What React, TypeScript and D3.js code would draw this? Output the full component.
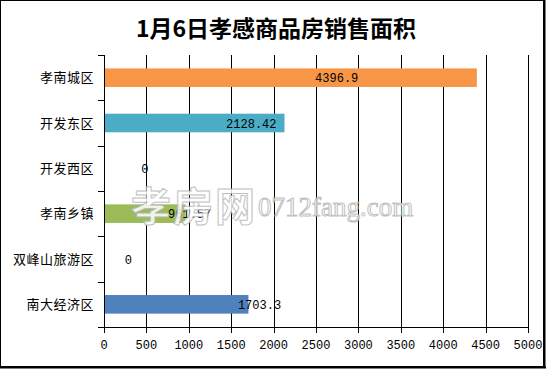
import React from 'react';
import * as d3 from 'd3';

const title = '1月6日孝感商品房销售面积';
const categories = ['孝南城区', '开发东区', '开发西区', '孝南乡镇', '双峰山旅游区', '南大经济区'];
const values = [4396.9, 2128.42, 0, 961.57, 0, 1703.3];
const valueLabels = ['4396.9', '2128.42', '0', '961.57', '0', '1703.3'];
// where Excel left each data label (in axis units)
const labelAt = [2744, 1737, 483, 1010, 287, 1834];
const colors = ['#F79646', '#4BACC6', '#C0504D', '#9BBB59', '#8064A2', '#4F81BD'];
const xTicks = [0, 500, 1000, 1500, 2000, 2500, 3000, 3500, 4000, 4500, 5000];

const W = 546;
const H = 369;
const plot = { left: 104, right: 528, top: 55, bottom: 327 };

const numFont = '"Liberation Mono", "DejaVu Sans Mono", monospace';
const cjkFont = '"Noto Sans CJK SC", sans-serif';

export default function App() {
  const x = d3.scaleLinear().domain([0, 5000]).range([plot.left, plot.right]);
  const y = d3.scaleBand<string>()
    .domain(categories)
    .range([plot.top, plot.bottom])
    .paddingInner(0.59)
    .paddingOuter(0.295);
  const step = y.step();
  const bounds = d3.range(categories.length + 1).map(i => plot.top + i * step);

  return (
    <svg width={W} height={H} style={{ position: 'absolute', left: 0, top: 0, background: '#fff' }}>
      <rect x={0} y={0} width={W} height={H} fill="#fff" />

      <text x={276} y={37} textAnchor="middle" fontFamily={cjkFont} fontWeight="bold" fontSize={23} fill="#000">
        {title}
      </text>

      {/* gridlines */}
      {xTicks.filter(t => t > 0).map(t => (
        <line key={'g' + t} x1={Math.round(x(t)) + 0.5} x2={Math.round(x(t)) + 0.5}
          y1={plot.top} y2={plot.bottom} stroke="#000" strokeWidth={1} />
      ))}

      {/* bars */}
      {categories.map((c, i) => (
        <rect key={'b' + c} x={x(0)} y={y(c)!} width={x(values[i]) - x(0)} height={y.bandwidth()}
          fill={colors[i]} />
      ))}

      {/* axes */}
      <line x1={plot.left + 0.5} x2={plot.left + 0.5} y1={plot.top} y2={plot.bottom + 0.5} stroke="#000" />
      {bounds.map((b, i) => (
        <line key={'yt' + i} x1={plot.left - 6} x2={plot.left} y1={Math.round(b) + 0.5} y2={Math.round(b) + 0.5} stroke="#000" />
      ))}
      <line x1={plot.left} x2={plot.right + 1} y1={plot.bottom + 0.5} y2={plot.bottom + 0.5} stroke="#000" />
      {xTicks.map(t => (
        <g key={'xt' + t}>
          <line x1={Math.round(x(t)) + 0.5} x2={Math.round(x(t)) + 0.5} y1={plot.bottom} y2={plot.bottom + 6} stroke="#000" />
          <text x={x(t)} y={348.5} textAnchor="middle" fontFamily={numFont} fontSize={12} fill="#000">{t}</text>
        </g>
      ))}

      {/* category labels */}
      {categories.map(c => (
        <text key={'l' + c} x={94} y={y(c)! + y.bandwidth() / 2 + 4.5} textAnchor="end"
          fontFamily={cjkFont} fontSize={13} letterSpacing={0.5} fill="#000">{c}</text>
      ))}

      {/* data labels */}
      {categories.map((c, i) => (
        <text key={'v' + c} x={x(labelAt[i])} y={y(c)! + y.bandwidth() / 2 + 4.5} textAnchor="middle"
          fontFamily={numFont} fontSize={12} fill="#000">{valueLabels[i]}</text>
      ))}

      {/* watermark */}
      <g opacity={0.85}>
        <text x={131} y={221} fontFamily={cjkFont} fontWeight="bold" fontSize={40} fill="#fff" stroke="#b5b5b5" strokeWidth={1}
          letterSpacing={2}>孝房网</text>
        <text x={258} y={216} fontFamily='"Liberation Serif", serif' fontSize={27} fill="#fff" stroke="#b5b5b5" strokeWidth={1}>
          0712fang.com
        </text>
      </g>

      {/* outer frame */}
      <rect x={0.5} y={0.5} width={543} height={366} fill="none" stroke="#000" strokeWidth={1} />
      <line x1={544.5} x2={544.5} y1={0} y2={368} stroke="#000" strokeWidth={2} />
      <line x1={0} x2={546} y1={367.5} y2={367.5} stroke="#000" strokeWidth={2} />
    </svg>
  );
}
